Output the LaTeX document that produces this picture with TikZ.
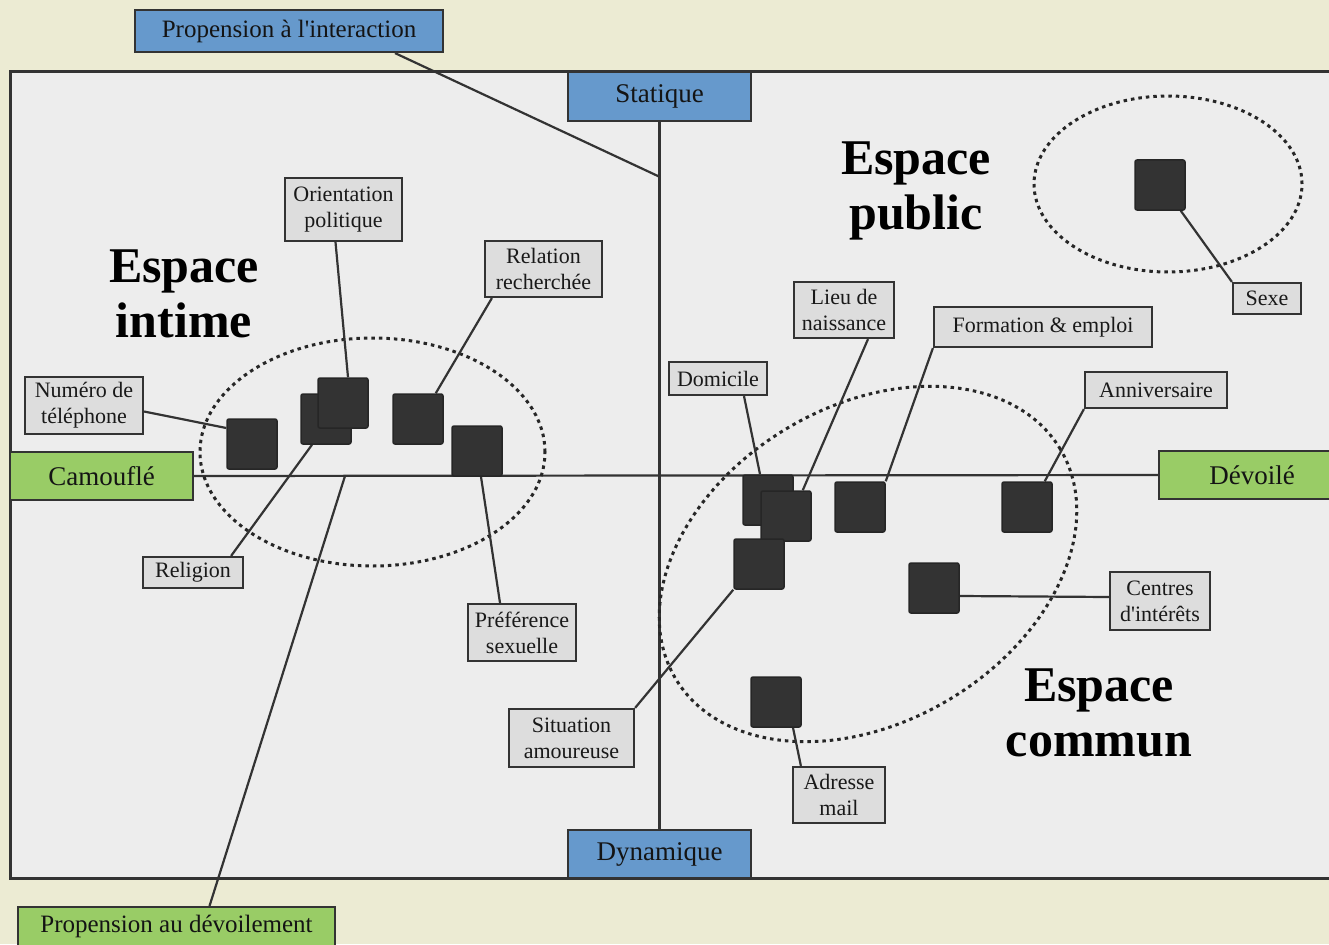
\documentclass[tikz,border=0pt]{standalone}
\usepackage{fontspec}
\setmainfont{Liberation Serif}
\usetikzlibrary{calc}
\definecolor{bgcream}{HTML}{ECEBD3}
\definecolor{panelgrey}{HTML}{EDEDED}
\definecolor{axblue}{HTML}{6699CC}
\definecolor{axgreen}{HTML}{99CC66}
\definecolor{lblfill}{HTML}{DDDDDD}
\definecolor{edgegrey}{HTML}{333333}
\definecolor{sqfill}{HTML}{333333}
\pgfdeclarelayer{back}
\pgfdeclarelayer{lines}
\pgfsetlayers{back,lines,main}
\begin{document}
\begin{tikzpicture}[x=1pt,y=-1pt,
 lbl/.style={draw=edgegrey, fill=lblfill, line width=2.2pt, inner sep=0pt, align=center,
   font=\fontsize{22}{26}\selectfont, text=black!90},
 axbox/.style={draw=edgegrey, line width=2.2pt, inner sep=0pt, text=black!92,
   font=\fontsize{27}{30}\selectfont},
 itm/.style={draw=black!85, fill=sqfill, line width=1.5pt, minimum size=50pt,
   inner sep=0pt, rounded corners=2pt},
 conn/.style={draw=edgegrey, line width=2.2pt},
 zone/.style={draw=black!85, line width=3pt, dash pattern=on 3.5pt off 4pt},
 big/.style={font=\fontsize{50}{55}\selectfont\bfseries, align=center, text=black}]
\useasboundingbox (0,0) rectangle (1329,944);
\clip (0,0) rectangle (1329,944);

% axis boxes
\node[axbox, fill=axblue, minimum width=308pt, minimum height=42pt, font=\fontsize{25}{30}\selectfont] (inter) at (289,31) {Propension à l\textquotesingle interaction};
\node[axbox, fill=axblue, minimum width=183pt, minimum height=49pt] (stat) at (659.5,96.5) {Statique};
\node[axbox, fill=axblue, minimum width=183pt, minimum height=48pt] (dyn) at (659.5,854) {Dynamique};
\node[axbox, fill=axgreen, minimum width=183pt, minimum height=48pt] (cam) at (101.5,476) {Camouflé};
\node[axbox, fill=axgreen, minimum width=186pt, minimum height=48pt] (dev) at (1252,475) {Dévoilé};
\node[axbox, fill=axgreen, minimum width=317pt, anchor=north, inner ysep=3pt,
  text height=22pt, text depth=30pt, font=\fontsize{25}{30}\selectfont] (propdev) at (176.5,906) {Propension au dévoilement};

% big titles
\node[big] (intime) at (184,294) {Espace\\intime};
\node[big] (public) at (916,191) {Espace\\public};
\node[big] (commun) at (1099,713) {Espace\\commun};

% items
\node[itm] (s1) at (252,444) {};
\node[itm] (s2) at (326,419) {};
\node[itm] (s3) at (343,403) {};
\node[itm] (s4) at (418,419) {};
\node[itm] (s5) at (477,451) {};
\node[itm] (s6) at (768,500) {};
\node[itm] (s7) at (786,516) {};
\node[itm] (s8) at (759,564) {};
\node[itm] (s9) at (860,507) {};
\node[itm] (s10) at (1027,507) {};
\node[itm] (s11) at (934,588) {};
\node[itm] (s12) at (776,702) {};
\node[itm] (s13) at (1160,185) {};

% labels
\node[lbl, minimum width=117pt, minimum height=63pt] (orient) at (343.5,209.5) {Orientation\\politique};
\node[lbl, minimum width=117pt, minimum height=56pt] (relation) at (543.5,269) {Relation\\recherchée};
\node[lbl, minimum width=118pt, minimum height=57pt] (numero) at (84,405.5) {Numéro de\\téléphone};
\node[lbl, minimum width=100pt, minimum height=31pt] (religion) at (193,572.5) {Religion};
\node[lbl, minimum width=108pt, minimum height=57pt] (pref) at (522,632.5) {Préférence\\sexuelle};
\node[lbl, minimum width=100pt, minimum height=56pt] (lieu) at (844,310) {Lieu de\\naissance};
\node[lbl, minimum width=218pt, minimum height=40pt] (form) at (1043,327) {Formation \& emploi};
\node[lbl, minimum width=98pt, minimum height=33pt] (domi) at (718,378.5) {Domicile};
\node[lbl, minimum width=142pt, minimum height=36pt] (anniv) at (1156,390) {Anniversaire};
\node[lbl, minimum width=68pt, minimum height=31pt] (sexe) at (1267,298.5) {Sexe};
\node[lbl, minimum width=100pt, minimum height=58pt] (centres) at (1160,601) {Centres\\d\textquotesingle intérêts};
\node[lbl, minimum width=125pt, minimum height=58pt] (situ) at (571.5,738) {Situation\\amoureuse};
\node[lbl, minimum width=92pt, minimum height=56pt] (adr) at (839,795) {Adresse\\mail};

\coordinate (interpt) at (660,177);
\coordinate (devpt) at (345,476);

\begin{pgfonlayer}{back}
  \fill[bgcream] (0,0) rectangle (1329,944);
  \draw[fill=panelgrey, draw=edgegrey, line width=3pt] (10,72) rectangle (1345,878);
\end{pgfonlayer}

\begin{pgfonlayer}{lines}
  % axes
  \draw[conn] (stat.south) -- (dyn.north);
  \draw[conn] (cam.east) -- (dev.west);
  \draw[conn] ([xshift=106pt]inter.south) -- (interpt);
  \draw[conn] ([xshift=33pt]propdev.north) -- (devpt);
  % zones
  \draw[zone] (372.5,452) ellipse [x radius=172.5pt, y radius=114pt];
  \draw[zone] (1168,184) ellipse [x radius=134pt, y radius=88pt];
  \draw[zone, rotate around={30.8:(868,564)}] (868,564) ellipse [x radius=224pt, y radius=158pt];
  % connectors
  \draw[conn] ([xshift=-8pt]orient.south) -- ([xshift=5pt]s3.north);
  \draw[conn] ([xshift=8pt]relation.south west) -- ([xshift=-8pt]s4.north east);
  \draw[conn] ([yshift=-6pt]numero.east) -- ([yshift=16pt]s1.west);
  \draw[conn] ([xshift=-13pt]religion.north east) -- ([xshift=-14pt]s2.south);
  \draw[conn] ([xshift=-22pt]pref.north) -- ([xshift=4pt]s5.south);
  \draw[conn] ([xshift=26pt]domi.south) -- ([xshift=-8pt]s6.north);
  \draw[conn] ([xshift=24pt]lieu.south) -- ([xshift=-9pt]s7.north east);
  \draw[conn] (form.south west) -- (s9.north east);
  \draw[conn] (anniv.south west) -- ([xshift=-8pt]s10.north east);
  \draw[conn] ([xshift=-5pt]s13.south east) -- (sexe.north west);
  \draw[conn] ([yshift=-8pt]s11.east) -- ([yshift=4pt]centres.west);
  \draw[conn] (situ.north east) -- (s8.south west);
  \draw[conn] ([xshift=17pt]s12.south) -- ([xshift=9pt]adr.north west);
\end{pgfonlayer}
\end{tikzpicture}
\end{document}
